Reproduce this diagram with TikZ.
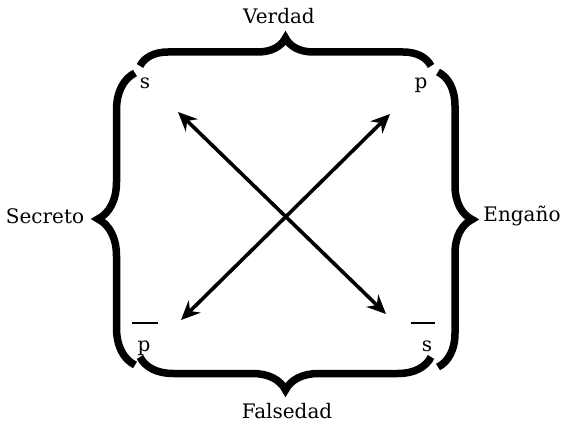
\documentclass[tikz,border=0pt]{standalone}
\usepackage{fontspec}
\setmainfont{DejaVu Serif}
\usetikzlibrary{arrows.meta,decorations.pathreplacing}

\tikzset{
    bigbrace/.style={decorate, decoration={brace, amplitude=#1}, line width=7.5pt},
    word/.style={font=\fontsize{20}{23}\selectfont, inner sep=0pt},
    letter/.style={font=\fontsize{20}{22}\selectfont, inner sep=0pt},
    crossarrow/.style={line width=3.6pt, {Stealth[length=19pt,width=17pt]}-{Stealth[length=19pt,width=17pt]}},
    negbar/.style={line width=1.3pt}
}

\begin{document}
\begin{tikzpicture}[x=1pt, y=-1pt]
    \useasboundingbox (0,0) rectangle (564,425);

    %Braces around the square
    \draw[bigbrace=28pt] (140,66) -- (431,66);
    \draw[bigbrace=33pt] (431,357) -- (140,357);
    \draw[bigbrace=37pt] (135,365) -- (135,73);
    \draw[bigbrace=34pt] (438,72) -- (438,367);

    %Labels of the braces
    \node[word] (verdad) at (279,16) {Verdad};
    \node[word] (falsedad) at (287,411) {Falsedad};
    \node[word] (secreto) at (45,216) {Secreto};
    \node[word] (engano) at (522,216) {Engaño};

    %Corner letters
    \node[letter, anchor=base] (sTop) at (145,89) {s};
    \node[letter, anchor=base] (pTop) at (421,89) {p};
    \node[letter, anchor=base] (pBot) at (144,351) {p};
    \node[letter, anchor=base] (sBot) at (427,351) {s};

    %bars over the lower letters
    \draw[negbar] ([xshift=-5pt,yshift=17pt]pBot.north west) -- ([xshift=7pt,yshift=17pt]pBot.north east);
    \draw[negbar] ([xshift=-11pt,yshift=17pt]sBot.north west) -- ([xshift=3pt,yshift=17pt]sBot.north east);

    %Crossing arrows
    \coordinate (ulEnd) at (178,112);
    \coordinate (lrEnd) at (386,314);
    \coordinate (llEnd) at (181,320);
    \coordinate (urEnd) at (390,114);

    \draw[crossarrow] (ulEnd) -- (lrEnd);
    \draw[crossarrow] (llEnd) -- (urEnd);

\end{tikzpicture}
\end{document}
